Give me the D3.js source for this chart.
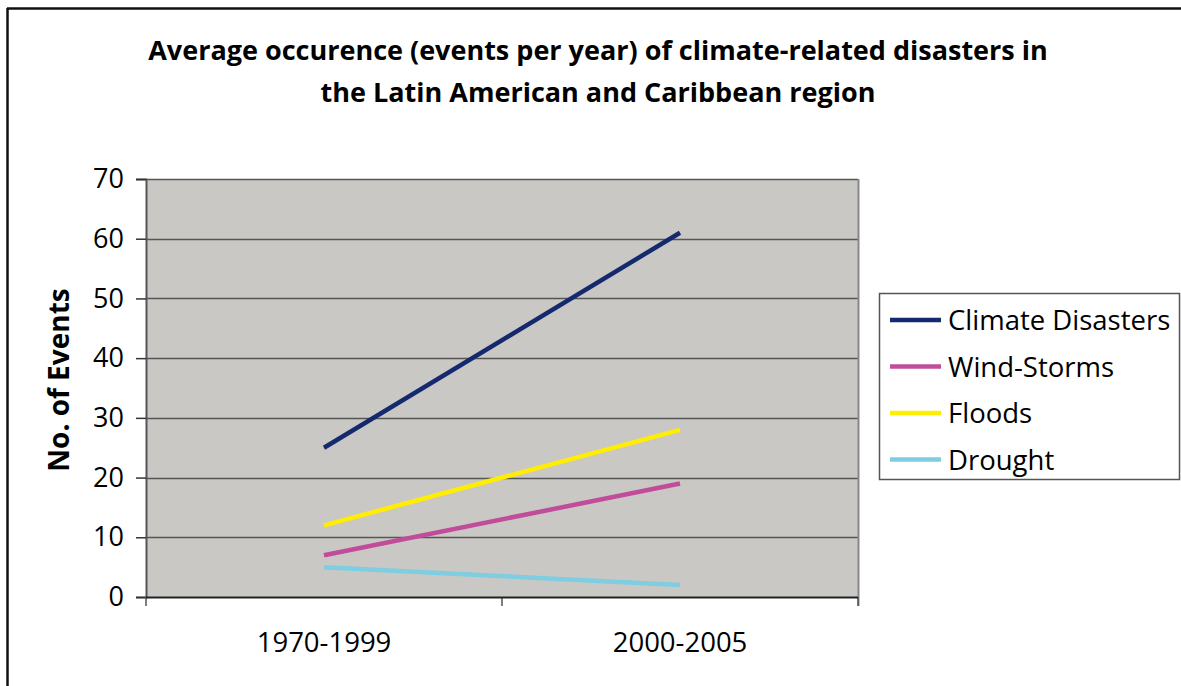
<!DOCTYPE html>
<html>
<head>
<meta charset="utf-8">
<script src="https://cdn.jsdelivr.net/npm/d3@7"></script>
<style>
  html, body { margin: 0; padding: 0; background: #fff; }
  svg { display: block; }
  text { font-family: "Open Sans", "Liberation Sans", sans-serif; fill: #000; }
</style>
</head>
<body>
<svg id="chart" width="1181" height="686"></svg>
<script>
const categories = ["1970-1999", "2000-2005"];
const seriesNames = ["Climate Disasters", "Wind-Storms", "Floods", "Drought"];
const climateDisasters = [25, 61];
const windStorms = [7, 19];
const floods = [12, 28];
const drought = [5, 2];
const yTicks = [0, 10, 20, 30, 40, 50, 60, 70];
const titleLines = ["Average occurence (events per year) of climate-related disasters in",
                    "the Latin American and Caribbean region"];
const yTitle = "No. of Events";

const colors = ["#15296e", "#c04c9a", "#ffee00", "#7ecde0"];
const series = [climateDisasters, windStorms, floods, drought].map((v, i) => ({
  name: seriesNames[i], values: v, color: colors[i]
}));

const svg = d3.select("#chart");
const W = 1181, H = 686;
const plot = { left: 146, right: 858, top: 179, bottom: 597 };

// outer border
svg.append("line").attr("x1", 7).attr("x2", W).attr("y1", 8.5).attr("y2", 8.5)
  .attr("stroke", "#111").attr("stroke-width", 2.5);
svg.append("line").attr("x1", 7.5).attr("x2", 7.5).attr("y1", 8).attr("y2", H)
  .attr("stroke", "#111").attr("stroke-width", 2.5);

// title
svg.append("g").selectAll("text").data(titleLines).join("text")
  .attr("x", 598).attr("y", (d, i) => 60 + i * 42)
  .attr("text-anchor", "middle")
  .attr("font-weight", "bold").attr("font-size", 27)
  .text(d => d);

const x = d3.scaleBand().domain(categories).range([plot.left, plot.right]);
const y = d3.scaleLinear().domain([0, 70]).range([plot.bottom, plot.top]);

// plot background
svg.append("rect").attr("x", plot.left).attr("y", plot.top)
  .attr("width", plot.right - plot.left).attr("height", plot.bottom - plot.top)
  .attr("fill", "#cac8c4");

// gridlines
svg.append("g").selectAll("line").data(yTicks.filter(t => t > 0)).join("line")
  .attr("x1", plot.left).attr("x2", plot.right)
  .attr("y1", d => Math.round(y(d)) + 0.5).attr("y2", d => Math.round(y(d)) + 0.5)
  .attr("stroke", "#555").attr("stroke-width", 1.5);

// right border of plot area
svg.append("line").attr("x1", plot.right + 0.5).attr("x2", plot.right + 0.5)
  .attr("y1", plot.top).attr("y2", plot.bottom + 9)
  .attr("stroke", "#888").attr("stroke-width", 2);

// y axis
const yAxis = svg.append("g").attr("transform", `translate(${plot.left},0)`)
  .call(d3.axisLeft(y).tickValues(yTicks).tickSize(10).tickPadding(12));
yAxis.select(".domain").attr("stroke", "#555").attr("stroke-width", 2);
yAxis.selectAll(".tick line").attr("stroke", "#333").attr("stroke-width", 1.5);
yAxis.selectAll(".tick text").attr("font-size", 27)
  .attr("font-family", "Open Sans, sans-serif").attr("fill", "#111");

// x axis
const xAxis = svg.append("g").attr("transform", `translate(0,${plot.bottom})`)
  .call(d3.axisBottom(x).tickSize(0).tickPadding(35));
xAxis.select(".domain").remove();
xAxis.selectAll(".tick text").attr("font-size", 27.5)
  .attr("font-family", "Open Sans, sans-serif").attr("fill", "#111");
// x boundary ticks
const bounds = [plot.left, plot.left + x.bandwidth(), plot.right];
svg.append("g").selectAll("line").data(bounds).join("line")
  .attr("x1", d => d).attr("x2", d => d)
  .attr("y1", plot.bottom).attr("y2", plot.bottom + 9)
  .attr("stroke", "#555").attr("stroke-width", 1.5);
svg.append("line").attr("x1", plot.left).attr("x2", plot.right)
  .attr("y1", plot.bottom + 0.5).attr("y2", plot.bottom + 0.5)
  .attr("stroke", "#222").attr("stroke-width", 2);

// y title
svg.append("text")
  .attr("transform", `translate(69,${380}) rotate(-90)`)
  .attr("text-anchor", "middle").attr("font-weight", "bold").attr("font-size", 28)
  .text(yTitle);

// lines
const line = d3.line().x((d, i) => x(categories[i]) + x.bandwidth() / 2).y(d => y(d));
svg.append("g").selectAll("path").data(series.slice().reverse()).join("path")
  .attr("d", d => line(d.values))
  .attr("fill", "none").attr("stroke", d => d.color).attr("stroke-width", 4.5);

// legend
const lg = svg.append("g");
lg.append("rect").attr("x", 879.5).attr("y", 293.5).attr("width", 300).attr("height", 186)
  .attr("fill", "#fff").attr("stroke", "#555").attr("stroke-width", 1.5);
const items = lg.selectAll("g").data(series).join("g")
  .attr("transform", (d, i) => `translate(0,${320 + i * 46.5})`);
items.append("line").attr("x1", 890).attr("x2", 941).attr("y1", 0).attr("y2", 0)
  .attr("stroke", d => d.color).attr("stroke-width", 4.5);
items.append("text").attr("x", 948).attr("y", 10).attr("font-size", 27.5)
  .attr("fill", "#111").text(d => d.name);
</script>
</body>
</html>
